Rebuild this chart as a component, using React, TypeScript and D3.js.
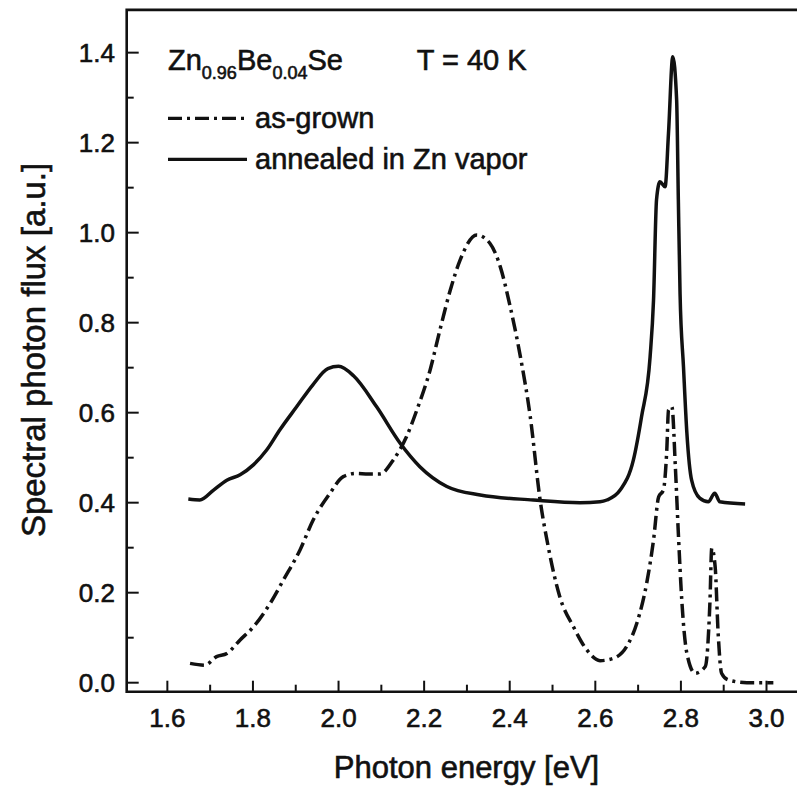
import React from "react";
import * as d3 from "d3";

// Photon energy (eV) and spectral photon flux (a.u.) for the annealed sample
const annealedEnergy = [
  1.649, 1.676, 1.708, 1.739, 1.77, 1.801, 1.832, 1.863, 1.902, 1.94, 1.975, 2.0, 2.035,
  2.089, 2.144, 2.19, 2.253, 2.331, 2.455, 2.564, 2.611, 2.627, 2.658, 2.689, 2.708, 2.728,
  2.736, 2.743, 2.751, 2.763, 2.771, 2.781, 2.79, 2.794, 2.798, 2.806, 2.814, 2.825, 2.844,
  2.864, 2.879, 2.891, 2.95,
];
const annealedFlux = [
  0.408, 0.406, 0.428, 0.45, 0.462, 0.484, 0.517, 0.562, 0.613, 0.662, 0.698, 0.703, 0.682,
  0.613, 0.532, 0.48, 0.436, 0.417, 0.406, 0.4, 0.402, 0.406, 0.428, 0.495, 0.591, 0.724,
  0.85, 1.073, 1.113, 1.102, 1.221, 1.391, 1.295, 1.073, 0.865, 0.702, 0.554, 0.45, 0.41,
  0.402, 0.421, 0.402, 0.397,
];

// Photon energy (eV) and spectral photon flux (a.u.) for the as-grown sample
const asGrownEnergy = [
  1.653, 1.688, 1.715, 1.739, 1.77, 1.801, 1.84, 1.871, 1.91, 1.941, 1.98, 2.011, 2.04, 2.07,
  2.097, 2.128, 2.159, 2.183, 2.214, 2.237, 2.261, 2.284, 2.323, 2.354, 2.378, 2.401, 2.425,
  2.448, 2.471, 2.49, 2.517, 2.549, 2.58, 2.611, 2.642, 2.673, 2.697, 2.72, 2.736, 2.748,
  2.759, 2.767, 2.771, 2.779, 2.787, 2.794, 2.802, 2.814, 2.833, 2.857, 2.868, 2.872, 2.88,
  2.887, 2.895, 2.911, 2.954, 3.016,
];
const asGrownFlux = [
  0.043, 0.039, 0.058, 0.065, 0.095, 0.124, 0.176, 0.228, 0.295, 0.362, 0.421, 0.458, 0.465,
  0.464, 0.464, 0.495, 0.547, 0.606, 0.695, 0.784, 0.872, 0.939, 0.995, 0.976, 0.924, 0.836,
  0.724, 0.591, 0.406, 0.302, 0.191, 0.124, 0.073, 0.049, 0.054, 0.08, 0.132, 0.221, 0.317,
  0.413, 0.428, 0.517, 0.606, 0.613, 0.48, 0.332, 0.184, 0.065, 0.021, 0.036, 0.184, 0.299,
  0.258, 0.11, 0.021, 0.006, 0.0, 0.0,
];

const xMajorTicks = [1.6, 1.8, 2.0, 2.2, 2.4, 2.6, 2.8, 3.0];
const xMinorTicks = [1.7, 1.9, 2.1, 2.3, 2.5, 2.7, 2.9];
const yMajorTicks = [0.0, 0.2, 0.4, 0.6, 0.8, 1.0, 1.2, 1.4];
const yMinorTicks = [0.1, 0.3, 0.5, 0.7, 0.9, 1.1, 1.3];

const legendLabels = ["as-grown", "annealed in Zn vapor"];

const W = 797;
const H = 788;
const FONT = "'Liberation Sans', Arial, Helvetica, sans-serif";
const INK = "#111";

export default function App() {
  const left = 126.7;
  const right = 809.3;
  const top = 9.9;
  const bottom = 691.7;

  const x = d3.scaleLinear().domain([1.505, 3.1]).range([left, right]);
  const y = d3.scaleLinear().domain([-0.02, 1.495]).range([bottom, top]);

  const line = d3
    .line<[number, number]>()
    .x((d) => x(d[0]))
    .y((d) => y(d[1]))
    .curve(d3.curveMonotoneX);

  const annealed = annealedEnergy.map((e, i) => [e, annealedFlux[i]] as [number, number]);
  const asGrown = asGrownEnergy.map((e, i) => [e, asGrownFlux[i]] as [number, number]);

  const fmt = d3.format(".1f");
  const dashDot = "14,5,3,5";
  // a faint outline gives the lettering a slightly heavier print weight
  const textStyle = { fill: INK, stroke: INK, strokeWidth: 0.6 };

  return (
    <svg
      width={W}
      height={H}
      style={{ position: "absolute", left: 0, top: 0, background: "#fff" }}
      fontFamily={FONT}
    >
      <rect x={0} y={0} width={W} height={H} fill="#fff" />

      {/* frame */}
      <path
        d={`M${right},${top}H${left}V${bottom}H${right}`}
        fill="none"
        stroke={INK}
        strokeWidth={2.6}
      />

      {/* x ticks */}
      {xMajorTicks.map((t) => (
        <g key={"xM" + t}>
          <line x1={x(t)} x2={x(t)} y1={bottom} y2={bottom - 11} stroke={INK} strokeWidth={2} />
          <text x={x(t)} y={727} textAnchor="middle" fontSize={26} {...textStyle}>
            {fmt(t)}
          </text>
        </g>
      ))}
      {xMinorTicks.map((t) => (
        <line key={"xm" + t} x1={x(t)} x2={x(t)} y1={bottom} y2={bottom - 7} stroke={INK} strokeWidth={2} />
      ))}

      {/* y ticks */}
      {yMajorTicks.map((t) => (
        <g key={"yM" + t}>
          <line x1={left} x2={left + 12} y1={y(t)} y2={y(t)} stroke={INK} strokeWidth={2} />
          <text x={115} y={y(t)} dy="0.35em" textAnchor="end" fontSize={26} {...textStyle}>
            {fmt(t)}
          </text>
        </g>
      ))}
      {yMinorTicks.map((t) => (
        <line key={"ym" + t} x1={left} x2={left + 7} y1={y(t)} y2={y(t)} stroke={INK} strokeWidth={2} />
      ))}

      {/* axis titles */}
      <text x={466.5} y={778} textAnchor="middle" fontSize={31} {...textStyle}>
        Photon energy [eV]
      </text>
      <text
        transform={`translate(45,350) rotate(-90)`}
        textAnchor="middle"
        fontSize={33}
        {...textStyle}
      >
        Spectral photon flux [a.u.]
      </text>

      {/* composition and temperature */}
      <text x={168} y={70} fontSize={29} {...textStyle}>
        Zn
        <tspan fontSize={18} dy={9}>0.96</tspan>
        <tspan dy={-9}>Be</tspan>
        <tspan fontSize={18} dy={9}>0.04</tspan>
        <tspan dy={-9}>Se</tspan>
      </text>
      <text x={416.7} y={70} fontSize={29} {...textStyle}>
        T = 40 K
      </text>

      {/* legend */}
      <line x1={168} x2={247} y1={118.3} y2={118.3} stroke={INK} strokeWidth={3.3} strokeDasharray={dashDot} />
      <text x={255} y={128} fontSize={29} {...textStyle}>
        {legendLabels[0]}
      </text>
      <line x1={168} x2={247} y1={159.3} y2={159.3} stroke={INK} strokeWidth={3.3} />
      <text x={255} y={168.5} fontSize={29} {...textStyle}>
        {legendLabels[1]}
      </text>

      {/* spectra */}
      <path d={line(asGrown) || ""} fill="none" stroke={INK} strokeWidth={3.5} strokeDasharray={dashDot} />
      <path d={line(annealed) || ""} fill="none" stroke={INK} strokeWidth={3.5} strokeLinejoin="round" />
    </svg>
  );
}
